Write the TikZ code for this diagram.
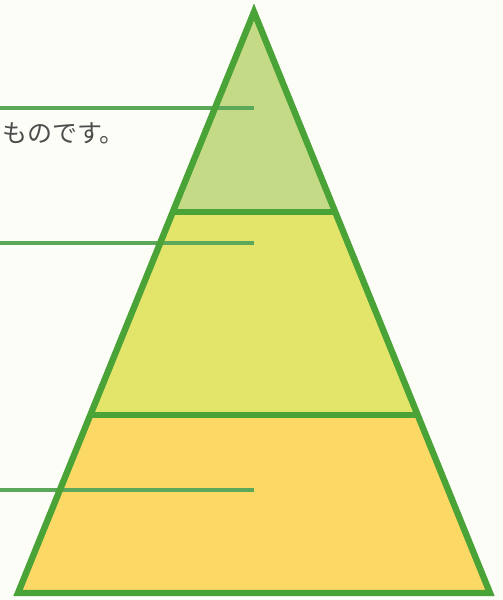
\documentclass[tikz,border=0pt]{standalone}
\usepackage{fontspec}
\newfontfamily\jpfont{Noto Sans CJK JP}
\usepackage{tikz}

\definecolor{paper}{HTML}{FDFDF8}
\definecolor{rimGreen}{HTML}{4AA336}
\definecolor{leadGreen}{HTML}{5CA85A}
\definecolor{topFill}{HTML}{C5DA86}
\definecolor{midFill}{HTML}{E3E56A}
\definecolor{lowFill}{HTML}{FCD965}

\begin{document}
\begin{tikzpicture}[
  x=0.5pt, y=-0.5pt,
  rim/.style={draw=rimGreen, line width=3.2pt, line join=miter},
  lead/.style={draw=leadGreen, line width=1.6pt},
  note/.style={font=\jpfont\fontsize{12.5}{14}\selectfont, text=black!70,
               anchor=west, inner sep=0pt}
]
\fill[paper] (0,0) rectangle (503,600);
\useasboundingbox (0,0) rectangle (503,600);

% pyramid corners and layer borders
\coordinate (apex) at (254,12);
\coordinate (bl) at (18,593);
\coordinate (br) at (490,593);
\coordinate (l1) at (172.8,212);
\coordinate (r1) at (335.2,212);
\coordinate (l2) at (90.3,415);
\coordinate (r2) at (417.7,415);

\fill[topFill] (apex) -- (r1) -- (l1) -- cycle;
\fill[midFill] (l1) -- (r1) -- (r2) -- (l2) -- cycle;
\fill[lowFill] (l2) -- (r2) -- (br) -- (bl) -- cycle;

% leader lines
\foreach \i/\y in {1/108,2/243,3/490} {
  \coordinate (s\i) at (0,\y);
  \coordinate (t\i) at (254,\y);
  \draw[lead] (s\i) -- (t\i);
}

\draw[rim] (apex) -- (br) -- (bl) -- cycle;
\draw[rim] (l1) -- (r1);
\draw[rim] (l2) -- (r2);

\node[note] (txt) at (2,133) {ものです。};
\end{tikzpicture}
\end{document}
